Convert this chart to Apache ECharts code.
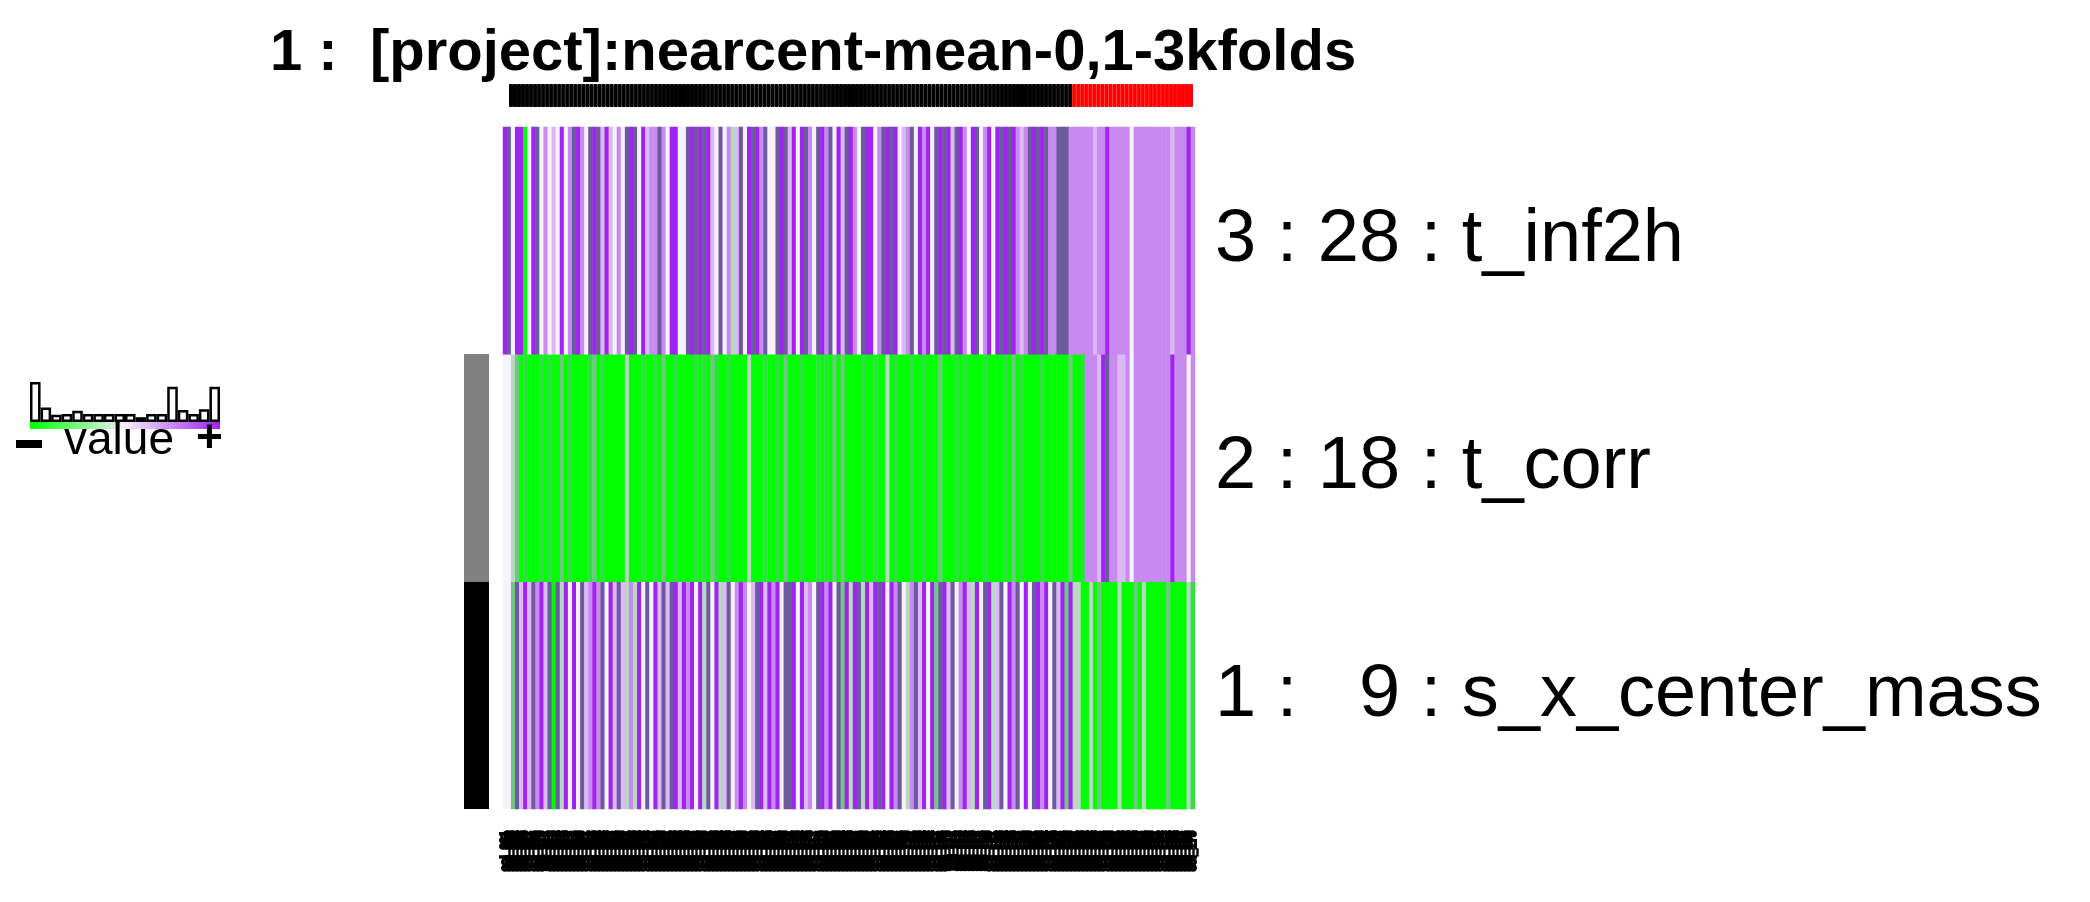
<!DOCTYPE html>
<html>
<head>
<meta charset="utf-8">
<script src="https://cdn.jsdelivr.net/npm/echarts@6/dist/echarts.min.js"></script>
<style>html,body{margin:0;padding:0;background:#fff}#main{width:2090px;height:902px}</style>
</head>
<body>
<div id="main"></div>
<script>
// rows, bottom to top
var rowNames = ['1 :   9 : s_x_center_mass', '2 : 18 : t_corr', '3 : 28 : t_inf2h'];
var rowGroupColors = ['#000000', '#808080'];
// cell codes 0..8 : 0 = strong green (-), 4 = neutral, 8 = strong purple (+)
var rowBottom = '4427585768' + '5707384847' + '5686748575' + '3638474857' + '5785868483' + '7483574686' + '4578586847' +
  '7848564786' + '8472838738' + '5878486743' + '6758482785' + '7468538478' + '3574867484' + '7868475828' +
  '3300302000' + '0300020300' + '0002000031';
var rowMid = '4432010001' + '0100201000' + '0120100000' + '3000100102' + '0010000101' + '0210010000' + '3000100102' +
  '0001000101' + '0202000010' + '0100301000' + '1001000200' + '0101000010' + '0001020100' + '0010000002' +
  '0016665876' + '6556466666' + '6666866646';
var rowTop = '8748804874' + '6454846786' + '4787585464' + '7874856676' + '4884478787' + '8547463574' + '8786744787' +
  '5848764786' + '7485786478' + '8467878456' + '7486847878' + '5786487468' + '4878786567' + '8787667776' +
  '6666656686' + '6666466666' + '6666566686';
var rowCodes = [rowBottom, rowMid, rowTop];
var groupSizes = [140, 30];
var groupColors = ['#000000', '#ff0000'];
// legend histogram
var histValues = [1.0, 0.36, 0.18, 0.2, 0.28, 0.2, 0.2, 0.2, 0.2, 0.2, 0.12, 0.2, 0.2, 0.88, 0.3, 0.2, 0.32, 0.88];

var nCols = rowTop.length;
var cols = [];
for (var i = 0; i < nCols; i++) cols.push('col_' + String(i + 1).padStart(3, '0'));
var cells = [];
rowCodes.forEach(function (s, r) {
  for (var i = 0; i < s.length; i++) cells.push([i, r, parseInt(s[i])]);
});
var topBar = [];
groupSizes.forEach(function (n, g) {
  for (var j = 0; j < n; j++) topBar.push({ value: 1, itemStyle: { color: groupColors[g], borderColor: groupColors[g], borderWidth: 1 } });
});
var leftBar = rowGroupColors.map(function (c) { return { value: 1, itemStyle: { color: c } }; });

var chart = echarts.init(document.getElementById('main'));
var font = 'Arial, Liberation Sans, sans-serif';
chart.setOption({
  animation: false,
  title: {
    text: '1 :  [project]:nearcent-mean-0,1-3kfolds', left: 265, top: 20,
    textStyle: { fontFamily: font, fontSize: 58, fontWeight: 'bold', color: '#000' }
  },
  grid: [
    { left: 503, top: 127, width: 692, height: 682 },
    { left: 509, top: 84, width: 684, height: 23 },
    { left: 464, top: 354, width: 25, height: 455 },
    { left: 30, top: 382, width: 190, height: 40 }
  ],
  xAxis: [
    { type: 'category', gridIndex: 0, data: cols, axisLine: { show: false }, axisTick: { show: false },
      axisLabel: { interval: 0, rotate: 90, fontSize: 11, fontWeight: 'bold', color: '#000', margin: 22, fontFamily: font,
        textBorderColor: '#000', textBorderWidth: 2 } },
    { type: 'category', gridIndex: 1, data: cols, show: false },
    { type: 'value', gridIndex: 2, min: 0, max: 1, show: false },
    { type: 'category', gridIndex: 3, data: histValues.map(function (v, i) { return i; }), show: false }
  ],
  yAxis: [
    { type: 'category', gridIndex: 0, data: rowNames, position: 'right', axisLine: { show: false }, axisTick: { show: false },
      axisLabel: { fontSize: 74, color: '#000', margin: 20, fontFamily: font } },
    { type: 'value', gridIndex: 1, min: 0, max: 1, show: false },
    { type: 'category', gridIndex: 2, data: rowNames.slice(0, 2), show: false },
    { type: 'value', gridIndex: 3, min: 0, max: 1, show: false }
  ],
  visualMap: {
    show: false, seriesIndex: 0, min: 0, max: 8, dimension: 2,
    inRange: { color: ['#00ff00', '#30e040', '#70c880', '#b8d8c0', '#f6f2fa', '#dcb8f4', '#c88af0', '#6c5a9e', '#a024f0'] }
  },
  series: [
    { type: 'heatmap', xAxisIndex: 0, yAxisIndex: 0, data: cells, itemStyle: { borderWidth: 0 } },
    { type: 'bar', xAxisIndex: 1, yAxisIndex: 1, data: topBar, barCategoryGap: '0%' },
    { type: 'bar', xAxisIndex: 2, yAxisIndex: 2, data: leftBar, barCategoryGap: '0%' },
    { type: 'bar', xAxisIndex: 3, yAxisIndex: 3, data: histValues, barCategoryGap: '0%',
      itemStyle: { color: '#fff', borderColor: '#000', borderWidth: 2.5 } }
  ],
  graphic: [
    { type: 'rect', shape: { x: 30, y: 422, width: 190, height: 7 },
      style: { fill: new echarts.graphic.LinearGradient(0, 0, 1, 0, [
        { offset: 0, color: '#00ff00' }, { offset: 0.5, color: '#f4eefa' }, { offset: 1, color: '#a020f0' }]) } },
    { type: 'text', left: 64, top: 418, style: { text: 'value', font: '46px Arial', fill: '#000' } },
    { type: 'rect', shape: { x: 16, y: 440, width: 26, height: 8 }, style: { fill: '#000' } },
    { type: 'text', left: 196, top: 416, style: { text: '+', font: 'bold 46px Arial', fill: '#000' } }
  ]
});
</script>
</body>
</html>
